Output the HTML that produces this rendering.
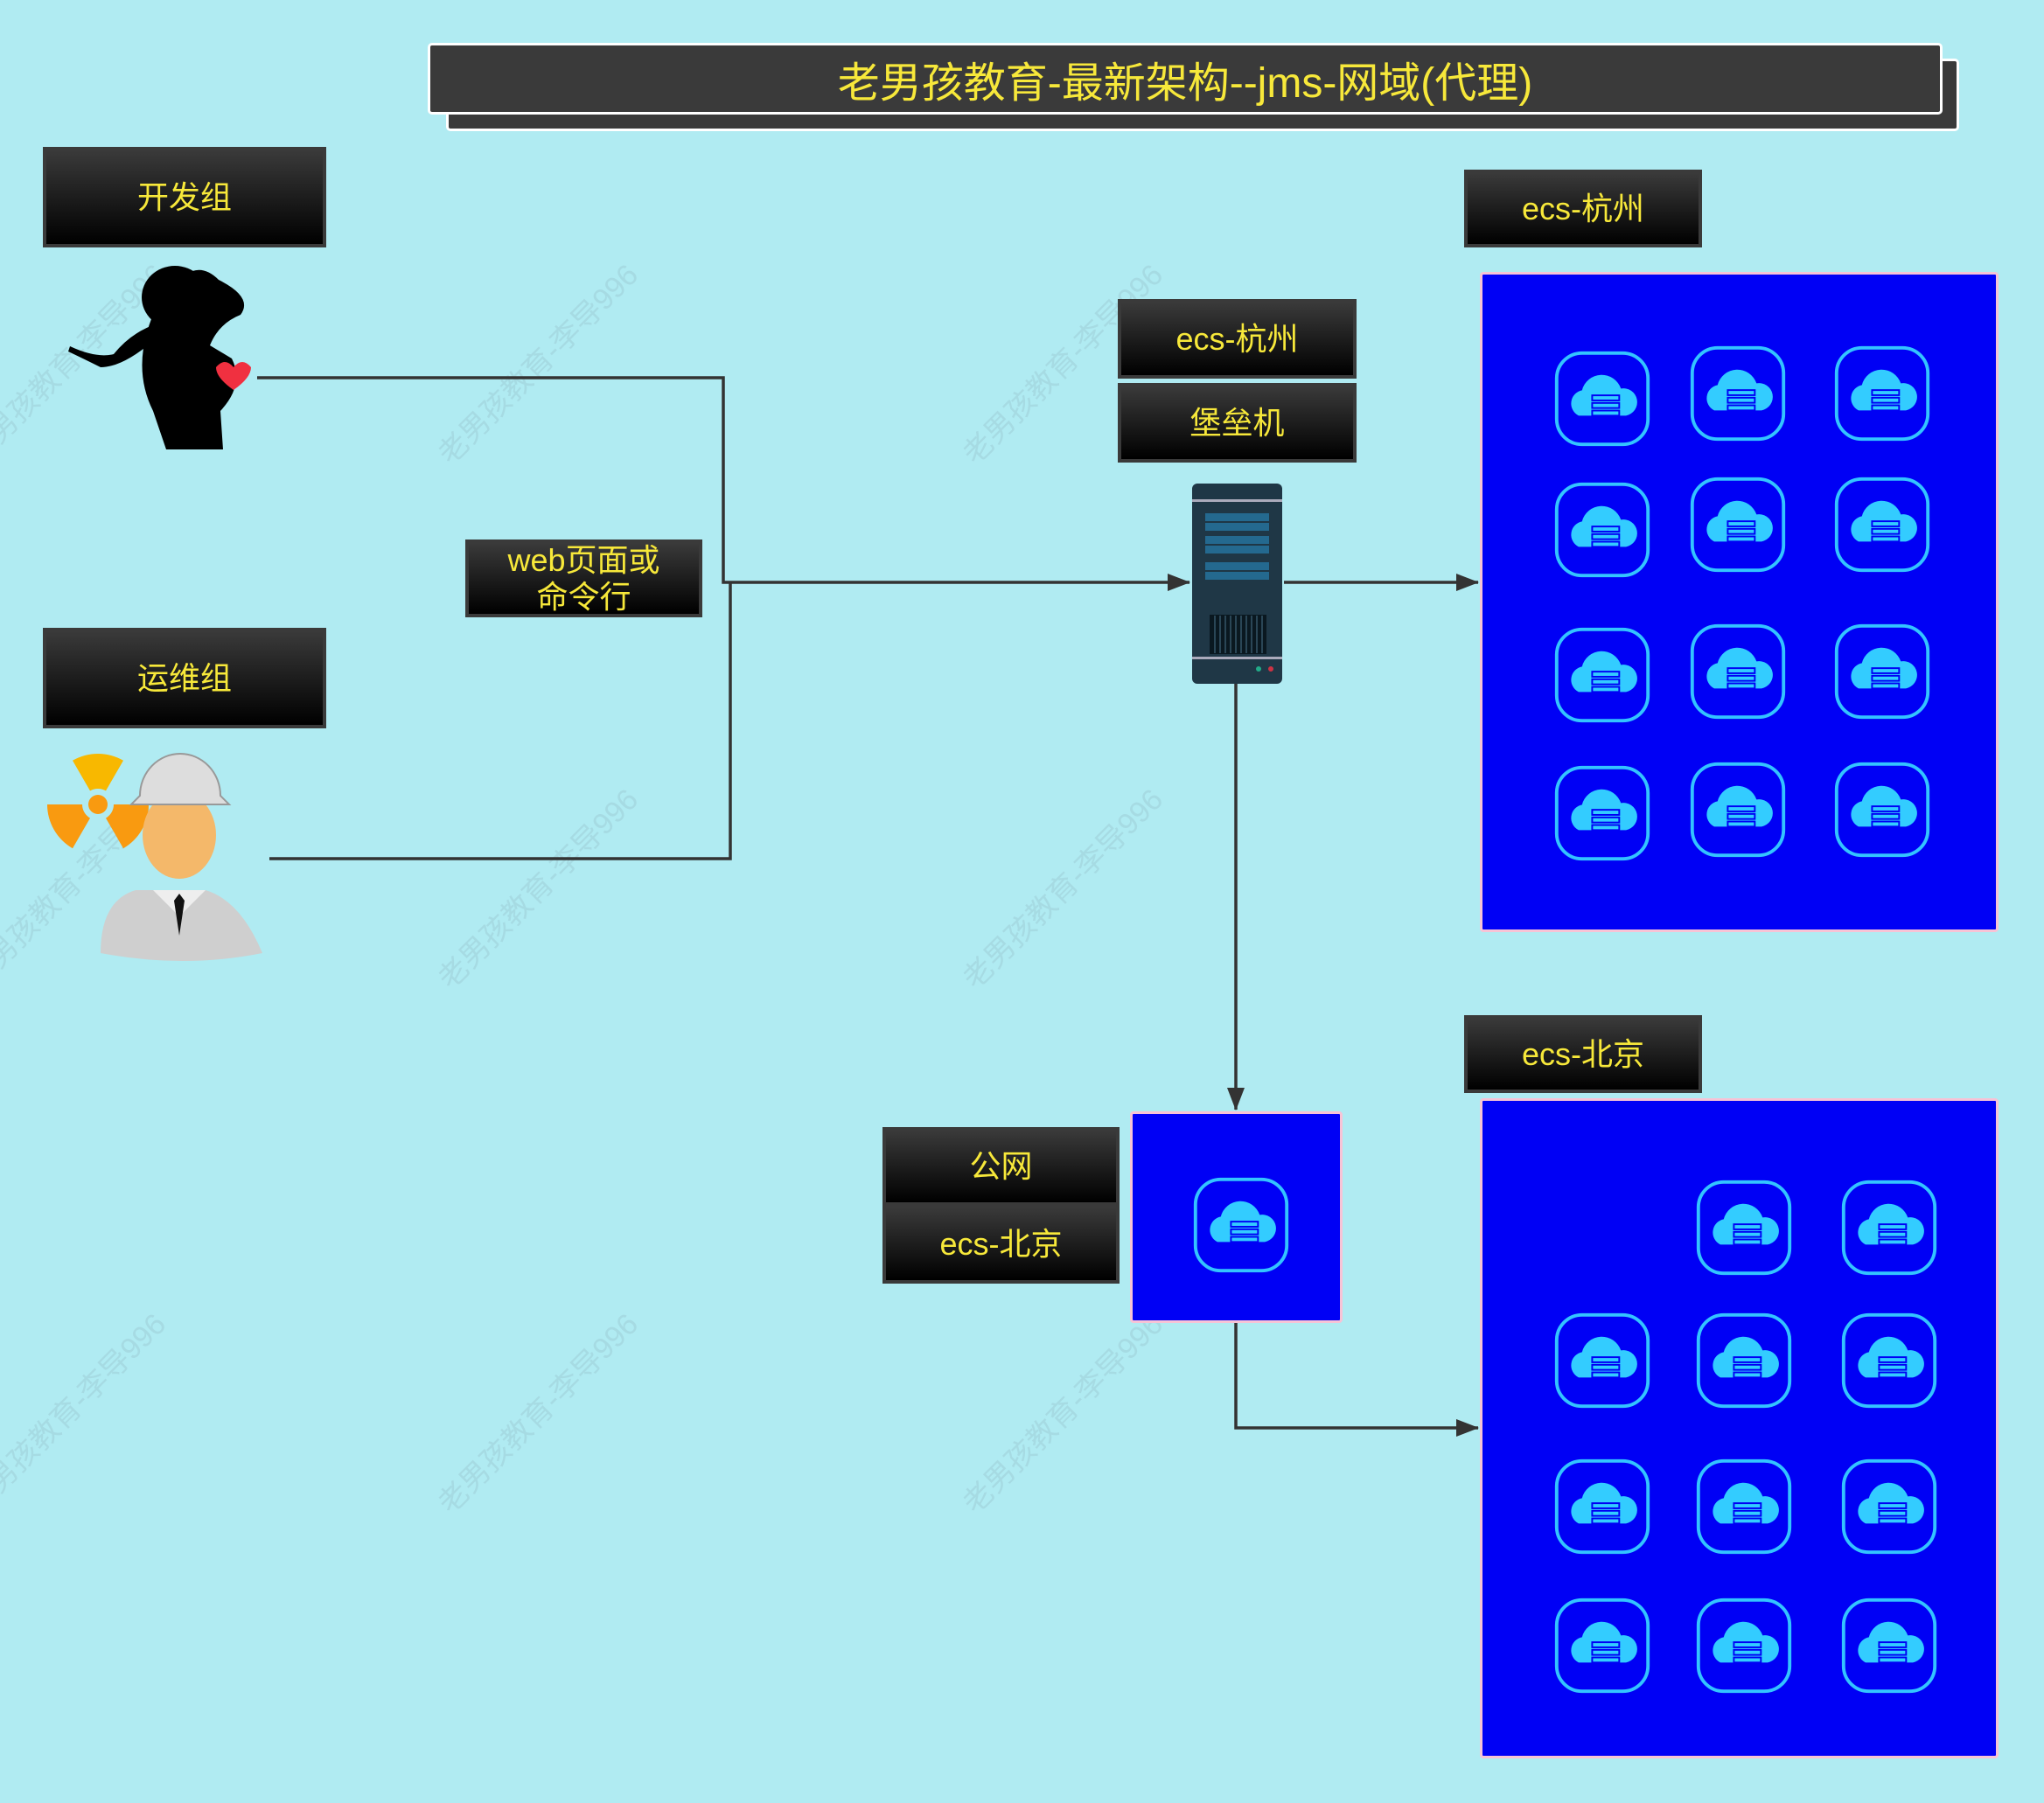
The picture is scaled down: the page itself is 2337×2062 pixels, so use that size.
<!DOCTYPE html>
<html><head><meta charset="utf-8"><style>
body{margin:0;width:2337px;height:2062px;background:#b0ebf2;position:relative;overflow:hidden;font-family:"Liberation Sans","Noto Sans CJK SC",sans-serif}
.lb{position:absolute;box-sizing:border-box;border:4px solid #3a3a3a;background:linear-gradient(#3a3a3a,#000);color:#f7e83a;font-size:36px;display:flex;align-items:center;justify-content:center;text-align:center;line-height:1.15}
.blue{position:absolute;background:#0000f5;border:3px solid #f7c3d6;border-radius:4px;box-sizing:border-box}
.wm{position:absolute;color:rgba(150,190,200,0.35);font-size:34px;transform:rotate(-45deg);white-space:nowrap}
</style></head><body>
<div class="wm" style="left:460px;top:390px">老男孩教育-李导996</div>
<div class="wm" style="left:1060px;top:390px">老男孩教育-李导996</div>
<div class="wm" style="left:460px;top:990px">老男孩教育-李导996</div>
<div class="wm" style="left:1060px;top:990px">老男孩教育-李导996</div>
<div class="wm" style="left:460px;top:1590px">老男孩教育-李导996</div>
<div class="wm" style="left:1060px;top:1590px">老男孩教育-李导996</div>
<div class="wm" style="left:-80px;top:390px">老男孩教育-李导996</div>
<div class="wm" style="left:-80px;top:990px">老男孩教育-李导996</div>
<div class="wm" style="left:-80px;top:1590px">老男孩教育-李导996</div>

<div style="position:absolute;left:510px;top:67px;width:1730px;height:83px;background:#3a3a3a;border:3px solid #fff;border-radius:5px;box-sizing:border-box"></div>
<div style="position:absolute;left:489px;top:49px;width:1732px;height:82px;background:#3a3a3a;border:3px solid #fff;border-radius:5px;box-sizing:border-box;color:#f7e83a;font-size:48px;display:flex;align-items:center;justify-content:center">老男孩教育-最新架构--jms-网域(代理)</div>

<div class="lb" style="left:49px;top:168px;width:324px;height:115px">开发组</div>
<div class="lb" style="left:49px;top:718px;width:324px;height:115px">运维组</div>
<div class="lb" style="left:532px;top:617px;width:271px;height:89px">web页面或<br>命令行</div>
<div class="lb" style="left:1278px;top:342px;width:273px;height:91px">ecs-杭州</div>
<div class="lb" style="left:1278px;top:438px;width:273px;height:91px">堡垒机</div>
<div class="lb" style="left:1674px;top:194px;width:272px;height:89px">ecs-杭州</div>
<div class="lb" style="left:1674px;top:1161px;width:272px;height:89px">ecs-北京</div>
<div class="lb" style="left:1009px;top:1289px;width:271px;height:90px">公网</div>
<div class="lb" style="left:1009px;top:1377px;width:271px;height:91px">ecs-北京</div>

<div class="blue" style="left:1692px;top:311px;width:593px;height:755px"></div>
<div class="blue" style="left:1692px;top:1256px;width:593px;height:755px"></div>
<div class="blue" style="left:1292px;top:1271px;width:243px;height:242px"></div>

<svg width="2337" height="2062" style="position:absolute;left:0;top:0">
<defs>
<symbol id="c" viewBox="0 0 120 120">
<rect x="6" y="6" width="108" height="108" rx="30" fill="none" stroke="#33c4ff" stroke-width="4"/>
<path d="M32 80 a16 16 0 0 1 4-30 a24 24 0 0 1 46 -2 a16 16 0 0 1 6 32 z" fill="#33ccff"/>
<rect x="47" y="55" width="34" height="8" fill="#0000f5"/><rect x="49" y="57" width="30" height="4" fill="#33ccff"/>
<rect x="47" y="64" width="34" height="8" fill="#0000f5"/><rect x="49" y="66" width="30" height="4" fill="#33ccff"/>
<rect x="47" y="73" width="34" height="8" fill="#0000f5"/><rect x="49" y="75" width="30" height="4" fill="#33ccff"/>
</symbol>
<marker id="a" markerWidth="26" markerHeight="20" refX="25" refY="10" orient="auto" markerUnits="userSpaceOnUse" viewBox="0 0 26 20"><path d="M0 0L26 10L0 20z" fill="#333"/></marker>
</defs>
<g fill="none" stroke="#333" stroke-width="3.5">
<path d="M294 432H827V666H1360" marker-end="url(#a)"/>
<path d="M308 982H835V666"/>
<path d="M1468 666H1690" marker-end="url(#a)"/>
<path d="M1413 782V1269" marker-end="url(#a)"/>
<path d="M1413 1513V1633H1690" marker-end="url(#a)"/>
</g>
<g>
<use href="#c" x="1774" y="398" width="116" height="116"/><use href="#c" x="1929" y="392" width="116" height="116"/><use href="#c" x="2094" y="392" width="116" height="116"/>
<use href="#c" x="1774" y="548" width="116" height="116"/><use href="#c" x="1929" y="542" width="116" height="116"/><use href="#c" x="2094" y="542" width="116" height="116"/>
<use href="#c" x="1774" y="714" width="116" height="116"/><use href="#c" x="1929" y="710" width="116" height="116"/><use href="#c" x="2094" y="710" width="116" height="116"/>
<use href="#c" x="1774" y="872" width="116" height="116"/><use href="#c" x="1929" y="868" width="116" height="116"/><use href="#c" x="2094" y="868" width="116" height="116"/>
<use href="#c" x="1936" y="1346" width="116" height="116"/><use href="#c" x="2102" y="1346" width="116" height="116"/>
<use href="#c" x="1774" y="1498" width="116" height="116"/><use href="#c" x="1936" y="1498" width="116" height="116"/><use href="#c" x="2102" y="1498" width="116" height="116"/>
<use href="#c" x="1774" y="1665" width="116" height="116"/><use href="#c" x="1936" y="1665" width="116" height="116"/><use href="#c" x="2102" y="1665" width="116" height="116"/>
<use href="#c" x="1774" y="1824" width="116" height="116"/><use href="#c" x="1936" y="1824" width="116" height="116"/><use href="#c" x="2102" y="1824" width="116" height="116"/>
<use href="#c" x="1361" y="1343" width="116" height="116"/>
</g>
<!-- server -->
<rect x="1363" y="553" width="103" height="229" rx="6" fill="#1f3746"/>
<rect x="1363" y="571" width="103" height="3" fill="#aab"/>
<rect x="1363" y="751" width="103" height="3" fill="#aab"/>
<g fill="#24698f"><rect x="1378" y="587" width="73" height="9"/><rect x="1378" y="598" width="73" height="9"/><rect x="1378" y="613" width="73" height="9"/><rect x="1378" y="624" width="73" height="9"/><rect x="1378" y="643" width="73" height="9"/><rect x="1378" y="654" width="73" height="9"/></g>
<rect x="1383" y="703" width="65" height="45" fill="#0a1820"/>
<g stroke="#2a4656" stroke-width="2"><path d="M1389 704v43M1395 704v43M1401 704v43M1407 704v43M1413 704v43M1419 704v43M1425 704v43M1431 704v43M1437 704v43M1443 704v43"/></g>
<circle cx="1439" cy="765" r="3" fill="#2a8"/><circle cx="1453" cy="765" r="3" fill="#c34"/>
<!-- woman silhouette -->
<g fill="#000">
<ellipse cx="200" cy="340" rx="38" ry="36"/>
<path d="M175 360 Q150 420 175 470 L190 514 L255 514 L252 470 Q280 440 265 410 L240 395 Q250 370 275 360 Q290 340 250 320 Q235 305 220 310 Z"/>
<path d="M175 390 Q140 420 115 420 Q95 410 78 402 L80 396 Q110 410 130 405 Q150 380 180 370 Z"/>
</g>
<path d="M247 420 q10 -12 20 0 q10 -12 20 0 q0 12 -20 26 q-20 -14 -20 -26z" fill="#f03040"/>
<!-- engineer -->
<g fill="#f99a10">
<path d="M83 869.8 A58 58 0 0 1 141 869.8 L121 904.4 A18 18 0 0 0 103 904.4 Z" fill="#f8b800"/>
<path d="M170 920 A58 58 0 0 1 141 970.2 L121 935.6 A18 18 0 0 0 130 920 Z"/>
<path d="M83 970.2 A58 58 0 0 1 54 920 L94 920 A18 18 0 0 0 103 935.6 Z"/>
<circle cx="112" cy="920" r="11"/>
</g>
<g>
<path d="M115 1090 q0 -60 40 -72 l80 0 q40 12 65 72 q-90 18 -185 0z" fill="#cfcfcf"/>
<path d="M175 1018 l30 30 l30 -30z" fill="#eee"/>
<path d="M205 1022 l-6 8 6 40 6 -40z" fill="#111"/>
<ellipse cx="205" cy="955" rx="42" ry="50" fill="#f4b86a"/>
<path d="M160 910 a46 48 0 0 1 92 0 l10 10 h-112z" fill="#ddd" stroke="#999" stroke-width="2"/>
</g>
</svg>
</body></html>
